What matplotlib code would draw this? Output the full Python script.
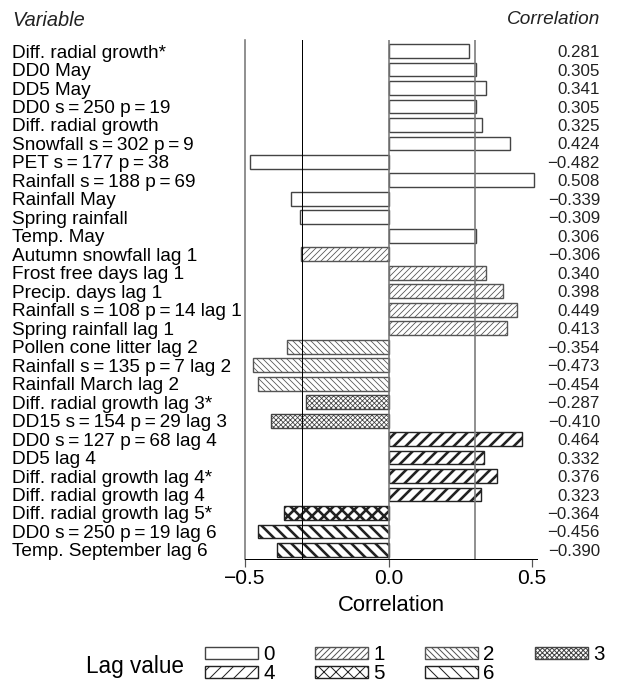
import matplotlib
matplotlib.use("Agg")
import matplotlib.pyplot as plt
import matplotlib.transforms as mtransforms
from matplotlib.patches import Patch

plt.rcParams['font.family'] = ['Liberation Sans', 'DejaVu Sans']

# Data (top to bottom)
variables = [
    "Diff. radial growth*", "DD0 May", "DD5 May", "DD0 s=250 p=19",
    "Diff. radial growth", "Snowfall s=302 p=9", "PET s=177 p=38",
    "Rainfall s=188 p=69", "Rainfall May", "Spring rainfall", "Temp. May",
    "Autumn snowfall lag 1", "Frost free days lag 1", "Precip. days lag 1",
    "Rainfall s=108 p=14 lag 1", "Spring rainfall lag 1",
    "Pollen cone litter lag 2", "Rainfall s=135 p=7 lag 2",
    "Rainfall March lag 2", "Diff. radial growth lag 3*",
    "DD15 s=154 p=29 lag 3", "DD0 s=127 p=68 lag 4", "DD5 lag 4",
    "Diff. radial growth lag 4*", "Diff. radial growth lag 4",
    "Diff. radial growth lag 5*", "DD0 s=250 p=19 lag 6",
    "Temp. September lag 6",
]
correlations = [
    0.281, 0.305, 0.341, 0.305, 0.325, 0.424, -0.482, 0.508, -0.339, -0.309,
    0.306, -0.306, 0.340, 0.398, 0.449, 0.413, -0.354, -0.473, -0.454,
    -0.287, -0.410, 0.464, 0.332, 0.376, 0.323, -0.364, -0.456, -0.390,
]
lags = [0] * 11 + [1] * 5 + [2] * 3 + [3] * 2 + [4] * 4 + [5] + [6] * 2
lag_values = [0, 1, 2, 3, 4, 5, 6]

# hatch style per lag: (pattern, hatch linewidth, edge colour)
hatch_style = {
    0: ('', 1.0, '#444444'),
    1: ('////', 0.8, '#555555'),
    2: ('\\\\\\\\', 0.8, '#555555'),
    3: ('xxxxx', 0.8, '#444444'),
    4: ('//', 2.6, '#222222'),
    5: ('xx', 2.6, '#222222'),
    6: ('\\\\', 2.6, '#222222'),
}

fig = plt.figure(figsize=(625 / 72, 687 / 72), dpi=72)
ax = fig.add_axes([245 / 625, 1 - 559 / 687, (537 - 245) / 625, (559 - 40) / 687])

ypos = list(range(len(variables)))
for y, v, lag in zip(ypos, correlations, lags):
    h, hlw, ec = hatch_style[lag]
    b = ax.barh(y, v, height=0.75, left=0, color='white', edgecolor=ec,
                linewidth=1.4, hatch=h, zorder=2)[0]
    if hasattr(b, 'set_hatch_linewidth'):
        b.set_hatch_linewidth(hlw)

ax.set_xlim(-0.5, 0.517)
ax.set_ylim(len(variables) - 1 + 0.49, -0.6)

ax.axvline(-0.3, color='black', lw=1.0, zorder=3)
ax.axvline(0.0, color='#777777', lw=1.6, zorder=3)
ax.axvline(0.3, color='#777777', lw=1.6, zorder=3)

for s in ['top', 'right']:
    ax.spines[s].set_visible(False)
ax.spines['left'].set_color('#777777')
ax.spines['left'].set_linewidth(1.6)
ax.spines['bottom'].set_linewidth(1.0)
ax.set_yticks([])
ax.set_xticks([-0.5, 0.0, 0.5])
ax.set_xticklabels(['\u22120.5', '0.0', '0.5'])
ax.tick_params(axis='x', length=8, width=1.2, color='#555555', labelsize=21, pad=2)
ax.set_xlabel('Correlation', fontsize=22, labelpad=7)

trans = mtransforms.blended_transform_factory(fig.transFigure, ax.transData)
for y, name, v in zip(ypos, variables, correlations):
    ax.text(12 / 625, y, name.replace('=', '\u2009=\u2009'), transform=trans,
            ha='left', va='center_baseline', fontsize=19)
    txt = ('\u2212' + '%.3f' % abs(v)) if v < 0 else '%.3f' % v
    ax.text(600 / 625, y, txt, transform=trans, ha='right', va='center_baseline',
            fontsize=17, color='#222222')

fig.text(12 / 625, 1 - 20 / 687, 'Variable', style='italic', fontsize=20,
         ha='left', va='center', color='#222222')
fig.text(600 / 625, 1 - 20 / 687, 'Correlation', style='italic', fontsize=19,
         ha='right', va='center', color='#222222')

# legend
handles = []
for lag in lag_values:
    h, hlw, ec = hatch_style[lag]
    p = Patch(facecolor='white', edgecolor=ec, hatch=h, linewidth=1.4, label=str(lag))
    if hasattr(p, 'set_hatch_linewidth'):
        p.set_hatch_linewidth(hlw)
    handles.append(p)
order = [0, 4, 1, 5, 2, 6, 3]
fig.legend([handles[i] for i in order], [str(lag_values[i]) for i in order],
           ncol=4, loc='upper left', bbox_to_anchor=(205 / 625, 1 - 645 / 687),
           frameon=False, fontsize=20.5, handlelength=2.6, handleheight=0.55,
           handletextpad=0.25, columnspacing=1.95, labelspacing=0.0,
           borderpad=0, borderaxespad=0)
fig.text(86 / 625, 1 - 666 / 687, 'Lag value', fontsize=22.5, ha='left', va='center')

fig.savefig('out.png', dpi=72)
